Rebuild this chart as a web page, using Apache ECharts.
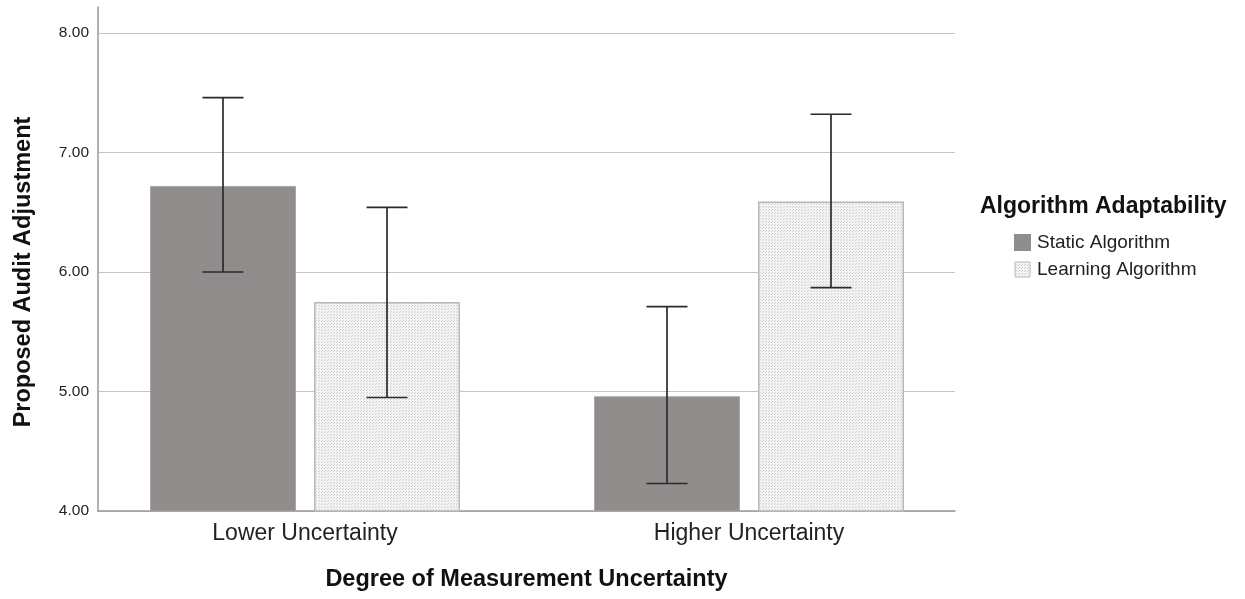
<!DOCTYPE html>
<html>
<head>
<meta charset="utf-8">
<script src="https://cdn.jsdelivr.net/npm/echarts@6/dist/echarts.min.js"></script>
<style>
html, body { margin: 0; padding: 0; background: #fff; }
#chart { width: 1245px; height: 599px; }
</style>
</head>
<body>
<div id="chart"></div>
<script>
// categories and series
const categories = ['Lower Uncertainty', 'Higher Uncertainty'];
const seriesNames = ['Static Algorithm', 'Learning Algorithm'];
const staticMean = [6.72, 4.96];
const staticLow = [6.00, 4.23];
const staticHigh = [7.46, 5.71];
const learningMean = [5.75, 6.59];
const learningLow = [4.95, 5.87];
const learningHigh = [6.54, 7.32];
const yTicks = [4, 5, 6, 7, 8];

const chart = echarts.init(document.getElementById('chart'));

// dotted fill for the learning bars
const makePattern = () => {
    const c = document.createElement('canvas');
    c.width = 3;
    c.height = 3;
    const ctx = c.getContext('2d');
    ctx.fillStyle = '#f4f4f4';
    ctx.fillRect(0, 0, 3, 3);
    ctx.fillStyle = '#d0d0d0';
    ctx.fillRect(0, 0, 1, 1);
    ctx.fillRect(1, 2, 1, 1);
    return c;
};
const dotFill = { image: makePattern(), repeat: 'repeat' };

const barWidth = 146;
const barGap = 18;
const capWidth = 41;

const errorSeries = (name, low, high, offset) => ({
    name: name,
    type: 'custom',
    xAxisIndex: 1,
    yAxisIndex: 1,
    z: 10,
    silent: true,
    renderItem: function (params, api) {
        const hi = api.coord([api.value(0), api.value(2)]);
        const lo = api.coord([api.value(0), api.value(1)]);
        const x = hi[0] + offset;
        const style = { stroke: '#2b2b2b', lineWidth: 1.7 };
        return {
            type: 'group',
            children: [
                { type: 'line', shape: { x1: x, y1: hi[1], x2: x, y2: lo[1] }, style: style },
                { type: 'line', shape: { x1: x - capWidth / 2, y1: hi[1], x2: x + capWidth / 2, y2: hi[1] }, style: style },
                { type: 'line', shape: { x1: x - capWidth / 2, y1: lo[1], x2: x + capWidth / 2, y2: lo[1] }, style: style }
            ]
        };
    },
    data: categories.map((c, i) => [i, low[i], high[i]])
});

const option = {
    backgroundColor: '#fff',
    animation: false,
    textStyle: { fontFamily: 'Arial' },
    grid: [
        // frame: gridlines and axes
        { left: 98, right: 290, top: 33, bottom: 88, outerBoundsMode: 'none' },
        // bars
        { left: 83, right: 274, top: 33, bottom: 88, outerBoundsMode: 'none' },
        // y axis line which runs above the top gridline
        { left: 98, right: 290, top: 7, bottom: 88, outerBoundsMode: 'none' }
    ],
    legend: {
        data: [
            { name: seriesNames[0], itemStyle: { color: '#918d8c', borderColor: '#918d8c' } },
            { name: seriesNames[1], itemStyle: { color: dotFill, borderColor: '#b8b8b8', borderWidth: 1 } }
        ],
        orient: 'vertical',
        left: 1009,
        top: 228,
        itemWidth: 15,
        itemHeight: 15,
        itemGap: 8,
        icon: 'rect',
        selectedMode: false,
        textStyle: { fontFamily: 'Arial', fontSize: 19, color: '#222', padding: [0, 0, 0, 2] }
    },
    title: {
        text: 'Algorithm Adaptability',
        left: 975,
        top: 190,
        textStyle: { fontFamily: 'Arial', fontSize: 23, fontWeight: 'bold', color: '#111' }
    },
    xAxis: [
        {
            gridIndex: 0,
            type: 'category',
            data: categories,
            name: 'Degree of Measurement Uncertainty',
            nameLocation: 'middle',
            nameGap: 57,
            nameTextStyle: { fontFamily: 'Arial', fontSize: 23.5, fontWeight: 'bold', color: '#111' },
            axisLine: { lineStyle: { color: '#999', width: 1.5 } },
            axisTick: { show: false },
            axisLabel: { show: false }
        },
        {
            gridIndex: 1,
            type: 'category',
            data: categories,
            axisLine: { show: false },
            axisTick: { show: false },
            axisLabel: { fontFamily: 'Arial', fontSize: 23, color: '#222', margin: 11 }
        },
        {
            gridIndex: 2,
            type: 'category',
            data: categories,
            show: false
        }
    ],
    yAxis: [
        {
            gridIndex: 0,
            type: 'value',
            min: yTicks[0],
            max: yTicks[yTicks.length - 1],
            interval: 1,
            name: 'Proposed Audit Adjustment',
            nameLocation: 'middle',
            nameGap: 62,
            nameTextStyle: { fontFamily: 'Arial', fontSize: 23.5, fontWeight: 'bold', color: '#111' },
            axisLine: { show: false },
            axisTick: { show: false },
            axisLabel: {
                fontFamily: 'Arial',
                fontSize: 15.5,
                color: '#222',
                margin: 9,
                padding: [5, 0, 0, 0],
                formatter: v => v.toFixed(2)
            },
            splitLine: { lineStyle: { color: '#c4c4c4', width: 1.2 } }
        },
        {
            gridIndex: 1,
            type: 'value',
            min: yTicks[0],
            max: yTicks[yTicks.length - 1],
            interval: 1,
            show: false
        },
        {
            gridIndex: 2,
            type: 'value',
            min: 0,
            max: 1,
            axisLine: { show: true, lineStyle: { color: '#999', width: 1.5 } },
            axisTick: { show: false },
            axisLabel: { show: false },
            splitLine: { show: false }
        }
    ],
    series: [
        {
            name: seriesNames[0],
            type: 'bar',
            xAxisIndex: 1,
            yAxisIndex: 1,
            barWidth: barWidth,
            barGap: (barGap / barWidth * 100) + '%',
            itemStyle: { color: '#918d8c', borderColor: '#aaa6a5', borderWidth: 1 },
            data: staticMean
        },
        {
            name: seriesNames[1],
            type: 'bar',
            xAxisIndex: 1,
            yAxisIndex: 1,
            barWidth: barWidth,
            itemStyle: { color: dotFill, borderColor: '#b8b8b8', borderWidth: 1.5 },
            data: learningMean
        },
        errorSeries('err-static', staticLow, staticHigh, -(barWidth + barGap) / 2),
        errorSeries('err-learning', learningLow, learningHigh, (barWidth + barGap) / 2)
    ]
};

chart.setOption(option);
</script>
</body>
</html>
